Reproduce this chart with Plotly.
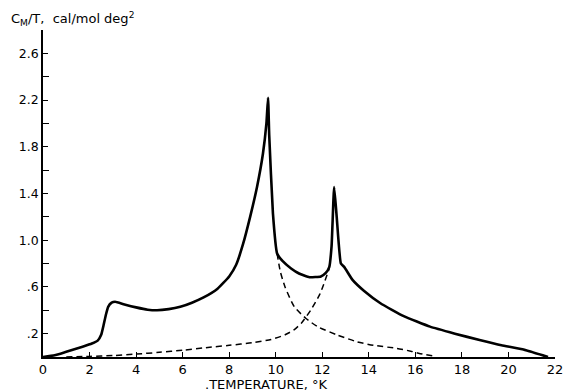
import plotly.graph_objects as go

# Measured C_M/T curve (solid)
t_total = [0, 0.5, 1.0, 1.7, 2.1, 2.35, 2.5, 2.6, 2.7, 2.8, 2.95, 3.1, 3.5, 4.0, 4.5, 4.9,
           5.4, 5.9, 6.4, 6.9, 7.5, 8.0, 8.3, 8.6, 8.9, 9.2, 9.45, 9.6, 9.67, 9.72, 9.88,
           10.06, 10.3, 10.66, 11.0, 11.45, 11.94, 12.15, 12.3, 12.4, 12.51, 12.62, 12.8,
           12.94, 13.3, 13.8, 14.5, 15.5, 16.63, 17.7, 18.76, 19.7, 20.6, 21.7]
c_total = [0, 0.015, 0.045, 0.088, 0.115, 0.14, 0.19, 0.27, 0.36, 0.43, 0.465, 0.473, 0.45,
           0.425, 0.405, 0.40, 0.41, 0.43, 0.465, 0.51, 0.585, 0.69, 0.79, 0.97, 1.2, 1.46,
           1.74, 2.0, 2.22, 1.9, 1.23, 0.886, 0.82, 0.758, 0.715, 0.683, 0.69, 0.72, 0.77,
           0.95, 1.455, 1.2, 0.8, 0.772, 0.66, 0.565, 0.46, 0.35, 0.26, 0.2, 0.145, 0.1,
           0.066, 0]

# Dashed component rising to the 12.5 K transition
t_rise = [1.0, 2.0, 3.0, 4.0, 5.0, 6.0, 7.0, 8.0, 9.0, 9.8, 10.4, 10.8, 11.1, 11.5, 11.9, 12.3]
c_rise = [0.0, 0.005, 0.012, 0.025, 0.04, 0.058, 0.08, 0.1, 0.122, 0.15, 0.19, 0.235, 0.29,
          0.40, 0.54, 0.758]

# Dashed component decaying from the 9.7 K transition
t_fall = [10.06, 10.2, 10.4, 10.8, 11.3, 11.8, 12.65, 13.5, 14.2, 15.2, 15.8, 16.3, 16.9]
c_fall = [0.886, 0.73, 0.60, 0.43, 0.33, 0.26, 0.188, 0.13, 0.1, 0.074, 0.05, 0.025, 0.005]

x_ticks = list(range(0, 23, 2))
y_major = [0.2, 0.6, 1.0, 1.4, 1.8, 2.2, 2.6]
y_major_text = [".2", ".6", "1.0", "1.4", "1.8", "2.2", "2.6"]
y_minor = [0.4, 0.8, 1.2, 1.6, 2.0, 2.4]

fig = go.Figure()
for tx, cy in ((t_rise, c_rise), (t_fall, c_fall)):
    fig.add_trace(go.Scatter(x=tx, y=cy, mode="lines",
                             line=dict(color="black", width=1.5, dash="6px,4px",
                                       shape="spline", smoothing=0.6),
                             hoverinfo="skip"))
fig.add_trace(go.Scatter(x=t_total, y=c_total, mode="lines",
                         line=dict(color="black", width=2.6, shape="spline", smoothing=0.4),
                         hoverinfo="skip"))

font = dict(family="DejaVu Sans, Liberation Sans, sans-serif", color="black", size=12)

fig.update_layout(
    width=575, height=391,
    margin=dict(l=43, r=16, t=30, b=34),
    paper_bgcolor="white", plot_bgcolor="white",
    showlegend=False,
    font=font,
    xaxis=dict(range=[0, 22], tickvals=x_ticks, ticks="inside", ticklen=5,
               tickcolor="black", showline=True, linecolor="black", linewidth=1.5,
               showgrid=False, zeroline=False, tickfont=dict(size=13)),
    yaxis=dict(range=[0, 2.8], tickvals=y_major, ticktext=y_major_text,
               ticks="inside", ticklen=5, tickcolor="black",
               minor=dict(tickvals=y_minor, ticks="inside", ticklen=6, tickcolor="black"),
               showline=True, linecolor="black", linewidth=1.5,
               showgrid=False, zeroline=False, tickfont=dict(size=12.5)),
    annotations=[
        dict(text="C<sub>M</sub>/T,  cal/mol deg<sup>2</sup>", xref="paper", yref="paper",
             x=-0.066, y=1.0, xanchor="left", yanchor="bottom", showarrow=False,
             font=dict(size=13)),
        dict(text=".TEMPERATURE, °K", xref="paper", yref="paper",
             x=0.313, y=-0.055, xanchor="left", yanchor="top", showarrow=False,
             font=dict(size=13)),
    ],
)

fig.write_html("out.html")
